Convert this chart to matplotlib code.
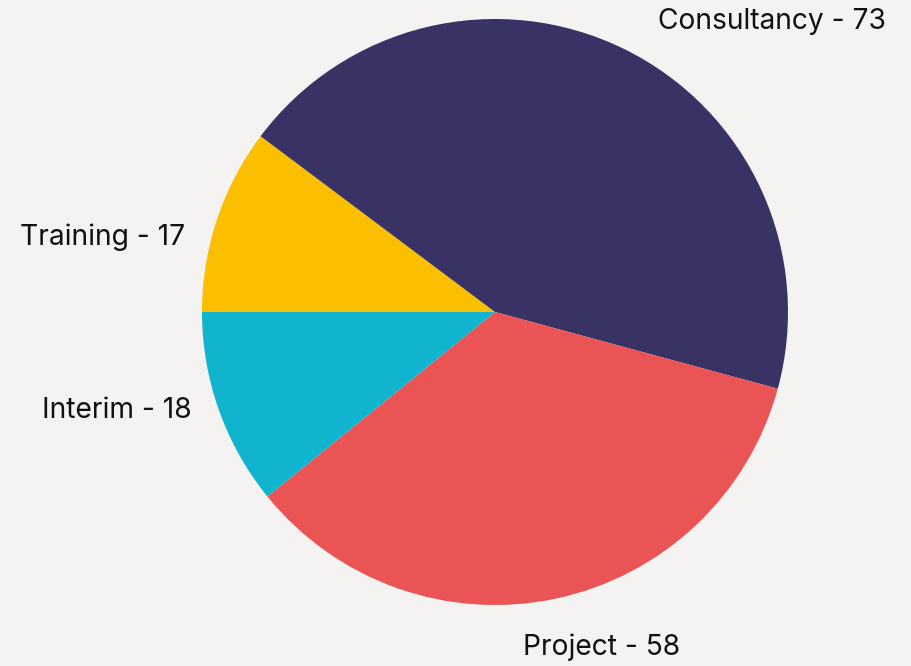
import matplotlib
matplotlib.use("Agg")
import matplotlib.pyplot as plt
import numpy as np

categories = ["Training", "Consultancy", "Project", "Interim"]
values = [17, 73, 58, 18]
colors = ["#fbbf00", "#383364", "#ea5455", "#10b4cf"]
# label anchor positions (in pie radius units) and alignment
label_pos = [(-1.058, 0.255, "right"), (1.333, 0.99, "right"), (0.365, -1.145, "center"), (-1.034, -0.337, "right")]

bg = "#f4f3f1"
fig = plt.figure(figsize=(9.12, 6.66), dpi=100, facecolor=bg)
# axes so that pie center is at (495, 312) px and radius 293 px
W, H = 912, 666
cx, cy, r = 495, 312, 293
ax = fig.add_axes([(cx - r) / W, (H - cy - r) / H, 2 * r / W, 2 * r / H])
ax.set_facecolor(bg)
ax.pie(values, colors=colors, startangle=180, counterclock=False, radius=1,
       wedgeprops=dict(linewidth=0))
ax.set_xlim(-1, 1)
ax.set_ylim(-1, 1)
ax.set_aspect("equal")
ax.axis("off")

for cat, val, (x, y, ha) in zip(categories, values, label_pos):
    ax.text(x, y, f"{cat} - {val}", ha=ha, va="center", fontsize=20.3,
            family=["Inter", "DejaVu Sans"], color="#111111", clip_on=False)

fig.savefig("out.png", dpi=100, facecolor=bg)
